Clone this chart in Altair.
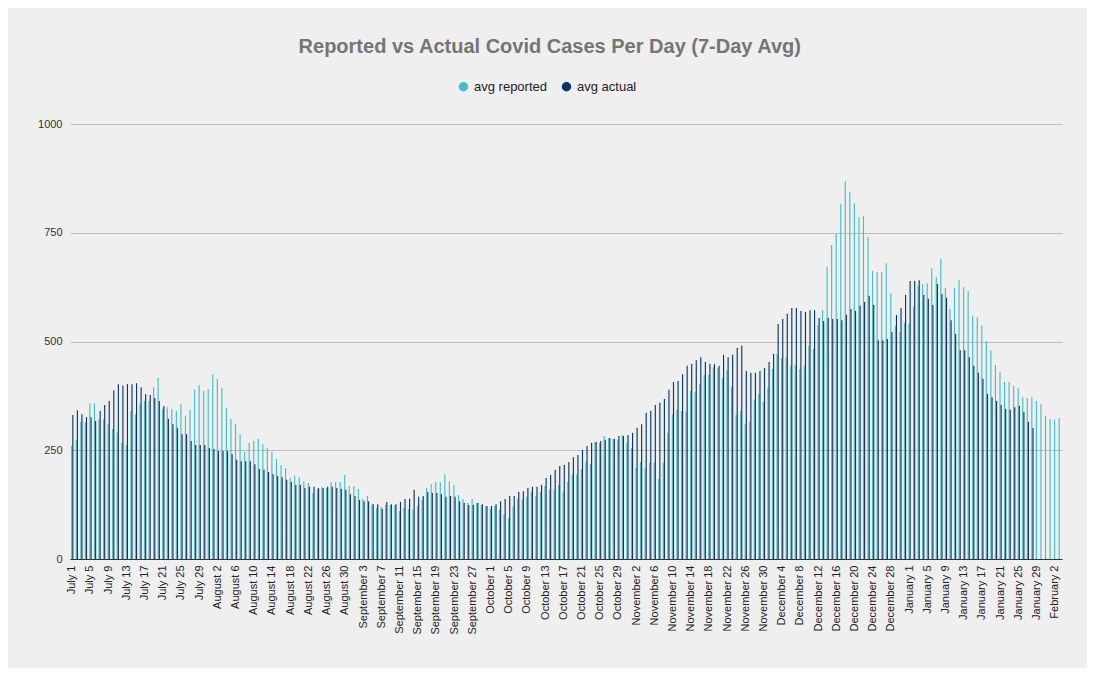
import altair as alt
import pandas as pd
import datetime as dt

# ---- categories: one bar pair per day, July 1 .. February 3 ----
start = dt.date(2020, 7, 1)
n_days = 218
days = [start + dt.timedelta(days=i) for i in range(n_days)]
day_labels = [f"{d.strftime('%B')} {d.day}" for d in days]
tick_labels = day_labels[::4]   # July 1, July 5, ... February 2

series_names = ["avg reported", "avg actual"]
series_colors = ["#46bdc6", "#073763"]

# ---- values ----
reported = [
    260, 274, 315, 315, 358, 358, 321, 321, 310, 299, 290, 267, 262, 340, 333, 356, 363, 363, 395, 416,
    345, 349, 345, 340, 356, 329, 343, 389, 400, 386, 391, 425, 414, 393, 347, 322, 310, 287, 246, 267,
    271, 276, 264, 255, 246, 230, 216, 209, 186, 191, 188, 179, 175, 152, 161, 166, 163, 177, 177, 177,
    193, 168, 168, 161, 138, 145, 126, 117, 120, 124, 124, 124, 110, 117, 115, 113, 122, 136, 163, 172,
    177, 177, 195, 179, 170, 147, 138, 129, 138, 129, 124, 122, 115, 122, 113, 103, 94, 120, 138, 136,
    143, 154, 145, 154, 168, 159, 159, 170, 156, 177, 195, 195, 207, 223, 218, 269, 267, 283, 278, 276,
    274, 285, 267, 255, 209, 223, 209, 221, 221, 184, 221, 290, 333, 343, 340, 338, 386, 384, 402, 423,
    423, 441, 439, 416, 434, 395, 331, 340, 310, 315, 366, 379, 361, 395, 437, 471, 462, 464, 444, 446,
    437, 444, 490, 483, 538, 572, 671, 722, 747, 816, 869, 844, 818, 786, 789, 740, 662, 660, 660, 680,
    611, 536, 522, 543, 540, 579, 628, 632, 634, 669, 648, 690, 623, 575, 623, 641, 625, 616, 559, 556,
    536, 501, 480, 446, 430, 407, 407, 398, 393, 372, 370, 372, 363, 356, 329, 322, 320, 324,
]
actual = [
    331, 342, 333, 326, 326, 317, 340, 354, 363, 388, 402, 399, 402, 402, 404, 395, 379, 377, 370, 363,
    352, 322, 310, 301, 287, 287, 271, 262, 262, 262, 255, 253, 248, 248, 248, 241, 228, 225, 225, 225,
    218, 207, 205, 200, 195, 191, 188, 182, 177, 170, 170, 163, 166, 166, 163, 163, 166, 166, 163, 161,
    159, 149, 145, 136, 133, 133, 126, 126, 115, 131, 126, 126, 131, 138, 138, 159, 143, 145, 154, 152,
    152, 149, 143, 145, 143, 133, 129, 124, 124, 129, 126, 122, 122, 126, 133, 138, 145, 145, 154, 156,
    163, 166, 166, 170, 186, 193, 205, 214, 216, 223, 234, 239, 251, 260, 267, 269, 271, 274, 278, 276,
    283, 283, 285, 290, 301, 310, 336, 340, 354, 359, 368, 389, 407, 409, 425, 444, 448, 457, 464, 453,
    448, 448, 444, 469, 464, 469, 485, 490, 432, 428, 428, 432, 439, 453, 471, 540, 552, 563, 577, 577,
    570, 568, 572, 572, 554, 547, 554, 552, 552, 549, 561, 575, 570, 582, 591, 605, 584, 503, 503, 506,
    522, 561, 577, 607, 639, 639, 641, 607, 598, 584, 632, 609, 600, 549, 517, 480, 480, 464, 444, 428,
    414, 379, 372, 363, 354, 345, 343, 349, 352, 338, 315, 301,
]

y_ticks = [0, 250, 500, 750, 1000]

rows = []
for i, lab in enumerate(day_labels):
    rows.append({"day": lab, "series": series_names[0], "value": reported[i]})
    if i < len(actual):
        rows.append({"day": lab, "series": series_names[1], "value": actual[i]})
df = pd.DataFrame(rows)

FONT = "Liberation Sans"

chart = (
    alt.Chart(df)
    .mark_bar()
    .encode(
        x=alt.X(
            "day:N",
            sort=day_labels,
            scale=alt.Scale(paddingInner=0.5, paddingOuter=0.25),
            axis=alt.Axis(
                values=tick_labels,
                labelAngle=270,
                title=None,
                ticks=False,
                labelPadding=6,
                labelFontSize=11,
                labelColor="#222222",
                domainColor="#333333",
                labelFont=FONT,
            ),
        ),
        xOffset=alt.XOffset("series:N", sort=series_names),
        y=alt.Y(
            "value:Q",
            scale=alt.Scale(domain=[0, 1000]),
            axis=alt.Axis(
                values=y_ticks,
                format="d",
                title=None,
                ticks=False,
                domain=False,
                labelPadding=8,
                labelFontSize=11,
                labelColor="#333333",
                gridColor="#bdbdbd",
                labelFont=FONT,
            ),
        ),
        color=alt.Color(
            "series:N",
            sort=series_names,
            scale=alt.Scale(domain=series_names, range=series_colors),
            legend=alt.Legend(
                orient="none",
                legendX=387,
                legendY=-44,
                direction="horizontal",
                title=None,
                symbolType="circle",
                symbolSize=90,
                symbolStrokeWidth=0,
                labelFontSize=13,
                labelFont=FONT,
                labelColor="#222222",
                columnPadding=13,
            ),
        ),
    )
    .properties(
        width=992,
        height=435,
        autosize=alt.AutoSizeParams(type="none"),
        padding={"left": 62, "top": 116, "right": 25, "bottom": 109},
        background="#efefef",
        title=alt.TitleParams(
            "Reported vs Actual Covid Cases Per Day (7-Day Avg)",
            fontSize=20,
            font=FONT,
            fontWeight="bold",
            color="#757575",
            anchor="middle",
            frame="bounds",
            offset=23,
        ),
    )
    .configure_view(strokeWidth=0)
)

chart.save("out.html", embed_options={"renderer": "svg", "actions": False})
